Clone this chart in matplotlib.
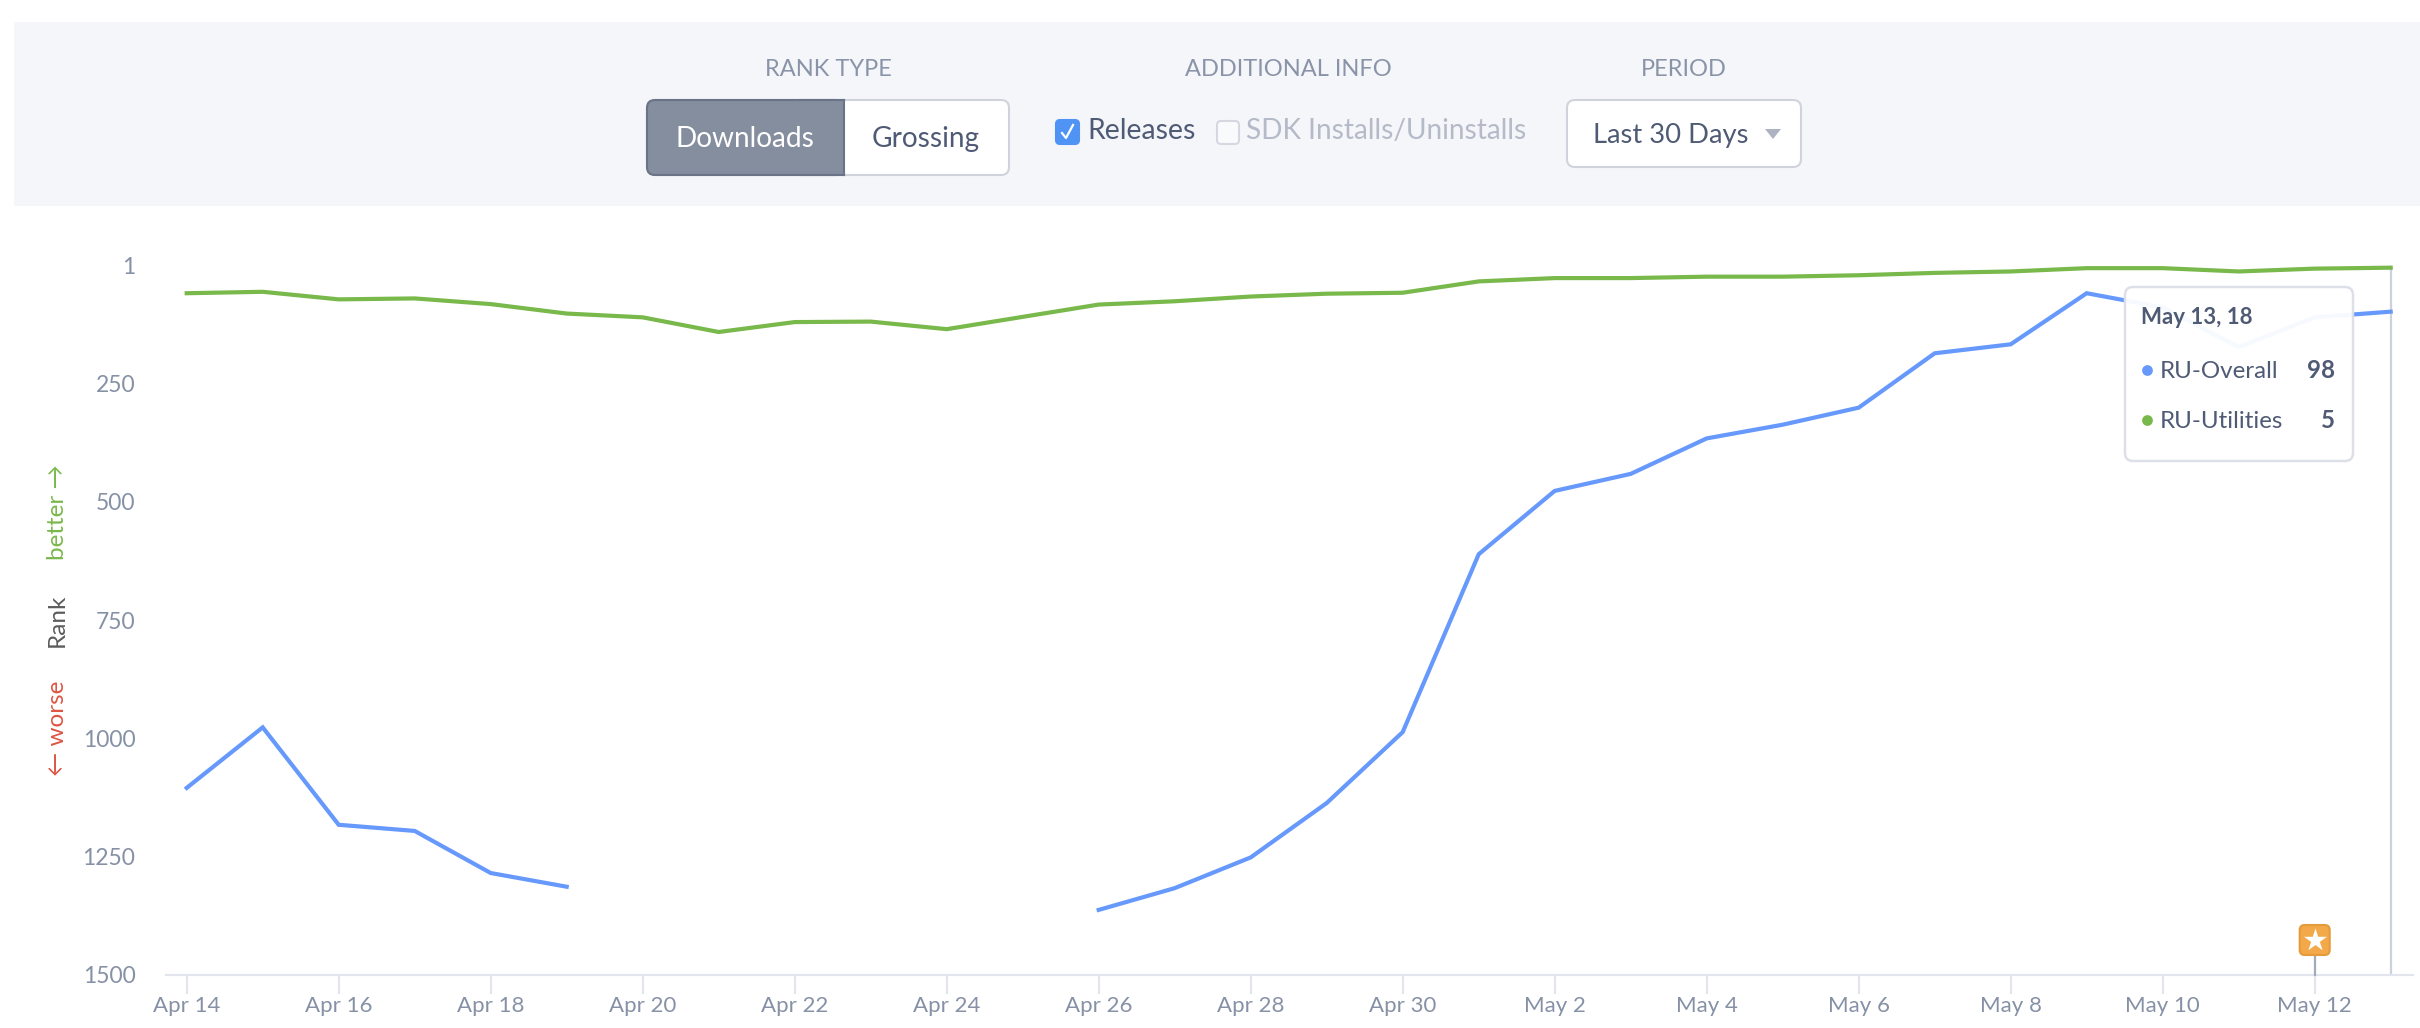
import numpy as np
import matplotlib
matplotlib.use("Agg")
import matplotlib.pyplot as plt
from matplotlib.patches import FancyBboxPatch, Rectangle, Polygon

plt.rcParams['font.family'] = ['Lato', 'Open Sans', 'DejaVu Sans']

W, H = 2420, 1028

days = ["Apr 14","Apr 15","Apr 16","Apr 17","Apr 18","Apr 19","Apr 20","Apr 21","Apr 22","Apr 23",
        "Apr 24","Apr 25","Apr 26","Apr 27","Apr 28","Apr 29","Apr 30","May 1","May 2","May 3",
        "May 4","May 5","May 6","May 7","May 8","May 9","May 10","May 11","May 12","May 13"]
ru_overall = [1105, 977, 1183, 1196, 1285, 1314, None, None, None, None,
              None, None, 1363, 1317, 1252, 1137, 987, 611, 477, 441,
              366, 337, 301, 186, 167, 59, 89, 173, 110, 98]
ru_utilities = [59, 56, 72, 70, 82, 102, 110, 141, 120, 119,
                135, 109, 83, 76, 66, 60, 58, 34, 27, 27,
                24, 24, 21, 16, 13, 6, 6, 13, 7, 5]
y_ticks = [1, 250, 500, 750, 1000, 1250, 1500]
release_day = "May 12"
hover_day = "May 13"

BLUE = '#6699fb'
GREEN = '#79b84b'
TICK = '#8691a6'
DARK = '#4f5a75'
LINE = '#e2e5ed'

fig = plt.figure(figsize=(W/100, H/100), dpi=100, facecolor='white')

# main chart axes, placed in pixels
ax_l, ax_r, ax_t, ax_b = 166, 2413, 230, 974.7
ax = fig.add_axes([ax_l/W, 1-ax_b/H, (ax_r-ax_l)/W, (ax_b-ax_t)/H])
x = np.arange(len(days))
px_per_day = 76.0
ax.set_xlim((ax_l-186.7)/px_per_day, (ax_r-186.7)/px_per_day)
px_per_rank = 0.473
ax.set_ylim(1500, 1-(265.8-ax_t)/px_per_rank)

over = np.array([np.nan if v is None else v for v in ru_overall], float)
util = np.array(ru_utilities, float)
hi = days.index(hover_day)
ax.plot([hi, hi], [util[hi], 1500], color='#ccd1de', lw=1.6, zorder=1)
ax.plot(x, over, color=BLUE, lw=3.0, zorder=3, solid_joinstyle='miter', clip_on=False)
ax.plot(x, util, color=GREEN, lw=3.0, zorder=3, solid_joinstyle='miter', clip_on=False)

for s in ['top', 'right', 'left']:
    ax.spines[s].set_visible(False)
ax.spines['bottom'].set_color(LINE)
ax.spines['bottom'].set_linewidth(1.5)
ax.set_xticks(x[::2])
ax.set_xticklabels(days[::2])
ax.set_yticks(y_ticks)
ax.tick_params(axis='x', length=13.5, width=1.5, color=LINE, labelcolor=TICK, labelsize=16, pad=1.5)
ax.tick_params(axis='y', length=0, labelcolor=TICK, labelsize=16.5, pad=22)

# overlay in pixel coordinates for the page furniture
ov = fig.add_axes([0, 0, 1, 1], facecolor='none')
ov.set_xlim(0, W); ov.set_ylim(H, 0); ov.axis('off')

def rbox(x0, y0, x1, y1, fc, ec, lw=1.5, r=6, z=2, alpha=None):
    p = FancyBboxPatch((x0+r, y0+r), x1-x0-2*r, y1-y0-2*r, boxstyle=f"round,pad={r},rounding_size={r}",
                       fc=fc, ec=ec, lw=lw, zorder=z, alpha=alpha)
    ov.add_patch(p)

# control panel
ov.add_patch(Rectangle((14, 22), W-14, 183.5, fc='#f5f6fa', ec='none', zorder=1))
LAB = '#8a94a8'
for cx, t in [(828, 'RANK TYPE'), (1288, 'ADDITIONAL INFO'), (1684, 'PERIOD')]:
    ov.text(cx, 70, t, ha='center', va='center', fontsize=17, color=LAB, zorder=5)

rbox(647, 100, 1009, 175, 'white', '#d0d3dc', lw=1.5, r=8)
ov.add_patch(FancyBboxPatch((655, 108), 180, 59, boxstyle="round,pad=8,rounding_size=8",
                            fc='#858e9e', ec='#6b7486', lw=1.5, zorder=3))
ov.add_patch(Rectangle((800, 100), 44, 75, fc='#858e9e', ec='none', zorder=3))
ov.plot([843.5, 843.5], [100, 175], color='#6b7486', lw=1.5, zorder=4)
ov.plot([800, 843.5], [100, 100], color='#6b7486', lw=1.5, zorder=4)
ov.plot([800, 843.5], [175, 175], color='#6b7486', lw=1.5, zorder=4)
ov.text(745, 139, 'Downloads', ha='center', va='center', fontsize=20.2, color='white', zorder=5)
ov.text(926, 139, 'Grossing', ha='center', va='center', fontsize=20.2, color=DARK, zorder=5)

rbox(1056, 120, 1079, 144, '#4f94f5', '#4f94f5', r=4, z=3)
ov.plot([1062, 1066, 1073], [133, 138, 125], color='white', lw=1.6, zorder=4)
ov.text(1087, 131, 'Releases', ha='left', va='center', fontsize=20.4, color=DARK, zorder=5)
rbox(1217, 121, 1239, 144, '#f9fafc', '#d5d8e0', r=4, z=3)
ov.text(1246, 131, 'SDK Installs/Uninstalls', ha='left', va='center', fontsize=20.2, color='#b4bac7', zorder=5)

rbox(1567, 100, 1801, 167, 'white', '#d0d3dc', r=8)
ov.text(1593, 135, 'Last 30 Days', ha='left', va='center', fontsize=19.7, color=DARK, zorder=5)
ov.add_patch(Polygon([(1765, 129), (1781, 129), (1773, 139)], fc='#adb3c1', ec='none', zorder=5))

# rotated axis caption
ov.text(57, 512, 'better →', rotation=90, ha='center', va='center', fontsize=17.5, color=GREEN, zorder=5)
ov.text(57, 620, 'Rank', rotation=90, ha='center', va='center', fontsize=17.5, color='#5c5c5c', zorder=5)
ov.text(57, 728, '← worse', rotation=90, ha='center', va='center', fontsize=17.5, color='#dd5544', zorder=5)

# release marker
rx = 186.7 + days.index(release_day)*px_per_day
ov.plot([rx, rx], [955, 975], color='#a3abbb', lw=1.6, zorder=5)
rbox(rx-15, 925, rx+15, 955, '#f3a84a', '#e59a3c', lw=1.5, r=5, z=6)
ov.scatter([rx], [940], marker='*', s=300, c='white', linewidths=0, zorder=7)

# tooltip
rbox(2125, 287, 2353, 461, 'white', '#dcdfe7', lw=1.8, r=8, z=8, alpha=0.95)
ov.text(2141, 318, 'May 13, 18', ha='left', va='center', fontsize=16, fontweight='bold', color=DARK, zorder=9)
for yy, name, col, val in [(371, 'RU-Overall', BLUE, ru_overall[hi]), (421, 'RU-Utilities', GREEN, ru_utilities[hi])]:
    ov.scatter([2147], [yy-1], s=60, c=col, linewidths=0, zorder=9)
    ov.text(2160, yy, name, ha='left', va='center', fontsize=17.4, color=DARK, zorder=9)
    ov.text(2335, yy, str(val), ha='right', va='center', fontsize=17.4, fontweight='bold', color=DARK, zorder=9)

fig.savefig('out.png', dpi=100, facecolor='white')
